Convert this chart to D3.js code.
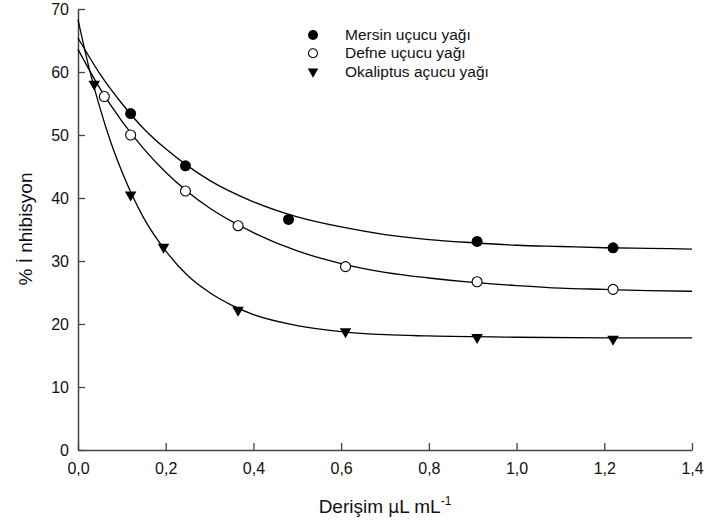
<!DOCTYPE html>
<html>
<head>
<meta charset="utf-8">
<script src="https://cdn.jsdelivr.net/npm/d3@7"></script>
<style>
  body { margin: 0; background: #fff; }
  svg { display: block; font-family: "Liberation Sans", Arial, sans-serif; }
</style>
</head>
<body>
<div id="chart"></div>
<script>
// measured points
const mersinX = [0.12, 0.245, 0.48, 0.91, 1.22];
const mersinY = [53.4, 45.1, 36.6, 33.1, 32.1];
const defneX = [0.06, 0.12, 0.245, 0.365, 0.61, 0.91, 1.22];
const defneY = [56.1, 50.0, 41.1, 35.6, 29.1, 26.7, 25.5];
const okalX = [0.037, 0.12, 0.195, 0.365, 0.61, 0.91, 1.22];
const okalY = [58.1, 40.5, 32.2, 22.2, 18.8, 17.9, 17.6];

// fitted curves
const mersinCurveX = [0, 0.05, 0.1, 0.15, 0.2, 0.25, 0.3, 0.4, 0.5, 0.6, 0.7, 0.8, 0.9, 1.0, 1.1, 1.2, 1.3, 1.4];
const mersinCurveY = [65.4, 59.7, 55.0, 51.0, 47.8, 45.1, 42.8, 39.4, 37.0, 35.4, 34.2, 33.4, 32.9, 32.5, 32.3, 32.1, 32.0, 31.9];
const defneCurveX = [0, 0.05, 0.1, 0.15, 0.2, 0.25, 0.3, 0.4, 0.5, 0.6, 0.7, 0.8, 0.9, 1.0, 1.1, 1.2, 1.3, 1.4];
const defneCurveY = [63.6, 57.4, 52.2, 47.8, 44.1, 41.0, 38.4, 34.5, 31.6, 29.6, 28.2, 27.3, 26.6, 26.1, 25.7, 25.5, 25.3, 25.2];
const okalCurveX = [0, 0.025, 0.05, 0.075, 0.1, 0.15, 0.2, 0.25, 0.3, 0.35, 0.4, 0.5, 0.6, 0.7, 0.8, 1.0, 1.2, 1.4];
const okalCurveY = [68.3, 60.7, 54.3, 48.8, 44.2, 36.8, 31.6, 27.7, 25.0, 23.0, 21.5, 19.75, 18.8, 18.3, 18.1, 17.9, 17.8, 17.8];

const legendLabels = ["Mersin uçucu yağı", "Defne uçucu yağı", "Okaliptus açucu yağı"];
const xTicks = [0, 0.2, 0.4, 0.6, 0.8, 1.0, 1.2, 1.4];
const yTicks = [0, 10, 20, 30, 40, 50, 60, 70];

const W = 706, H = 524;
const margin = { top: 9, right: 14, bottom: 74, left: 78 };
const width = W - margin.left - margin.right;
const height = H - margin.top - margin.bottom;

const svg = d3.select("#chart").append("svg")
    .attr("width", W)
    .attr("height", H);

const g = svg.append("g")
    .attr("transform", `translate(${margin.left},${margin.top})`);

const x = d3.scaleLinear().domain([0, 1.4]).range([0, width]);
const y = d3.scaleLinear().domain([0, 70]).range([height, 0]);

const comma = v => d3.format(".1f")(v).replace(".", ",");

// Axes (ticks point inward)
const xAxis = g.append("g")
    .attr("transform", `translate(0,${height})`)
    .call(d3.axisBottom(x).tickValues(xTicks).tickFormat(comma).tickSizeInner(-7).tickSizeOuter(0).tickPadding(13));
const yAxis = g.append("g")
    .call(d3.axisLeft(y).tickValues(yTicks).tickSizeInner(-7).tickSizeOuter(0).tickPadding(9));

[xAxis, yAxis].forEach(a => {
    a.select(".domain").attr("stroke", "#444").attr("stroke-width", 1.5);
    a.selectAll(".tick line").attr("stroke", "#444").attr("stroke-width", 1.3);
    a.selectAll(".tick text").attr("fill", "#111").style("font-size", "16px");
});

// Titles
svg.append("text")
    .attr("x", margin.left + width / 2)
    .attr("y", 513)
    .attr("text-anchor", "middle")
    .style("font-size", "19px")
    .attr("fill", "#111")
    .call(t => {
        t.append("tspan").text("Derişim ");
        t.append("tspan").text("μ").style("font-family", "'DejaVu Sans', sans-serif").style("font-size", "17px");
        t.append("tspan").text("L mL");
        t.append("tspan").text("-1").attr("dy", -8).style("font-size", "12px");
    });

svg.append("text")
    .attr("transform", "rotate(-90)")
    .attr("x", -229)
    .attr("y", 32)
    .attr("text-anchor", "middle")
    .style("font-size", "19px")
    .attr("fill", "#111")
    .text("% İ nhibisyon");

// Curves
const line = d3.line()
    .x(d => x(d[0]))
    .y(d => y(d[1]))
    .curve(d3.curveMonotoneX);

const curves = [
    d3.zip(mersinCurveX, mersinCurveY),
    d3.zip(defneCurveX, defneCurveY),
    d3.zip(okalCurveX, okalCurveY)
];

g.append("g")
    .selectAll("path")
    .data(curves)
    .join("path")
    .attr("d", line)
    .attr("fill", "none")
    .attr("stroke", "#000")
    .attr("stroke-width", 1.3);

// Points
const tri = d3.symbol(d3.symbolTriangle, 58)();

g.append("g")
    .selectAll("circle.m")
    .data(d3.zip(mersinX, mersinY))
    .join("circle")
    .attr("class", "m")
    .attr("cx", d => x(d[0]))
    .attr("cy", d => y(d[1]))
    .attr("r", 5.5)
    .attr("fill", "#000");

g.append("g")
    .selectAll("circle.d")
    .data(d3.zip(defneX, defneY))
    .join("circle")
    .attr("class", "d")
    .attr("cx", d => x(d[0]))
    .attr("cy", d => y(d[1]))
    .attr("r", 5)
    .attr("fill", "#fff")
    .attr("stroke", "#000")
    .attr("stroke-width", 1.1);

g.append("g")
    .selectAll("path.o")
    .data(d3.zip(okalX, okalY))
    .join("path")
    .attr("class", "o")
    .attr("d", tri)
    .attr("transform", d => `translate(${x(d[0])},${y(d[1])}) rotate(180)`)
    .attr("fill", "#000");

// Legend
const legend = svg.append("g").attr("transform", "translate(313,35)");
legendLabels.forEach((label, i) => {
    const row = legend.append("g").attr("transform", `translate(0,${i * 18.3})`);
    if (i === 0) row.append("circle").attr("r", 5).attr("fill", "#000");
    if (i === 1) row.append("circle").attr("r", 4.5).attr("fill", "#fff").attr("stroke", "#000").attr("stroke-width", 1.1);
    if (i === 2) row.append("path").attr("d", d3.symbol(d3.symbolTriangle, 48)()).attr("transform", "rotate(180)").attr("fill", "#000");
    row.append("text")
        .attr("x", 32)
        .attr("y", 5)
        .style("font-size", "15.5px")
        .attr("fill", "#111")
        .text(label);
});
</script>
</body>
</html>
